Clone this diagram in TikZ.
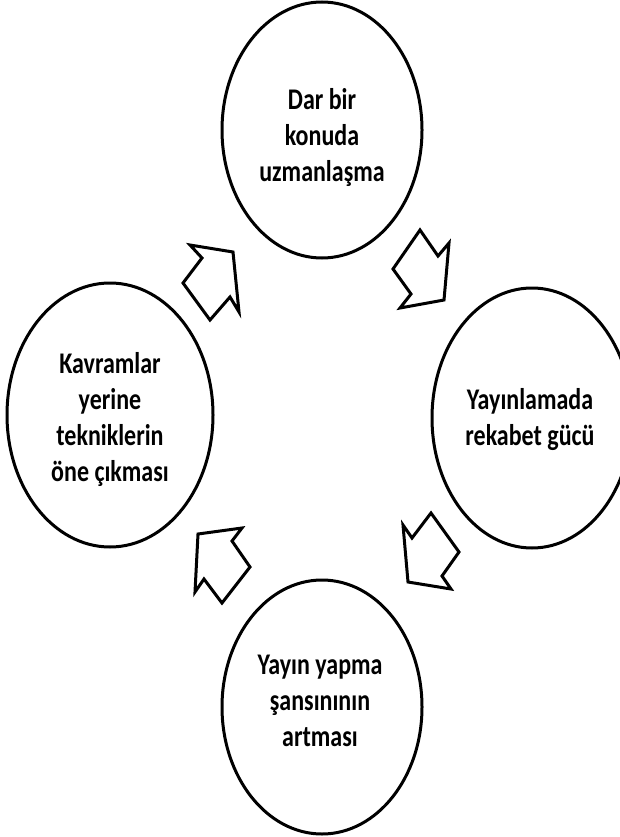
\documentclass[tikz,border=0pt]{standalone}
\usepackage{fontspec}
\setmainfont{Carlito}[FakeStretch=0.8]
\usetikzlibrary{shapes.geometric}
\begin{document}
\begin{tikzpicture}[x=1pt,y=-1pt,
  bubble/.style={draw,ellipse,line width=3pt,inner sep=0pt},
  lbl/.style={align=center,font=\fontsize{30}{36}\selectfont\bfseries,inner sep=0pt},
  blk/.style={draw,line width=3pt,line join=miter}]
\useasboundingbox (0,0) rectangle (620,837);
\clip (0,0) rectangle (620,837);
% ellipses
\node[bubble,minimum width=200pt,minimum height=256pt] (top) at (322,130) {};
\node[bubble,minimum width=200pt,minimum height=260pt] (right) at (532,418) {};
\node[bubble,minimum width=206pt,minimum height=264pt] (left) at (110,415) {};
\node[bubble,minimum width=200pt,minimum height=254pt] (bottom) at (322,707) {};
% texts
\node[lbl] (ttop) at (322,137) {Dar bir\\konuda\\uzmanlaşma};
\node[lbl] (tright) at (530,420) {Yayınlamada\\rekabet gücü};
\node[lbl] (tleft) at (110,419) {Kavramlar\\yerine\\tekniklerin\\öne çıkması};
\node[lbl] (tbottom) at (320,701) {Yayın yapma\\şansınının\\artması};
% block arrows
\draw[blk] (190,245) -- (233,252) -- (239,312) -- (230,297) -- (210,320) -- (183,283) -- (202,258) -- cycle;
\draw[blk] (420,230) -- (438,256) -- (449,243) -- (444,300) -- (400,308) -- (411,294) -- (393,269) -- cycle;
\draw[blk] (403,525) -- (412,538) -- (431,513) -- (459,552) -- (442,576) -- (451,589) -- (408,582) -- cycle;
\draw[blk] (242,528) -- (232,541) -- (250,567) -- (222,603) -- (204,579) -- (195,592) -- (198,534) -- cycle;
\end{tikzpicture}
\end{document}
